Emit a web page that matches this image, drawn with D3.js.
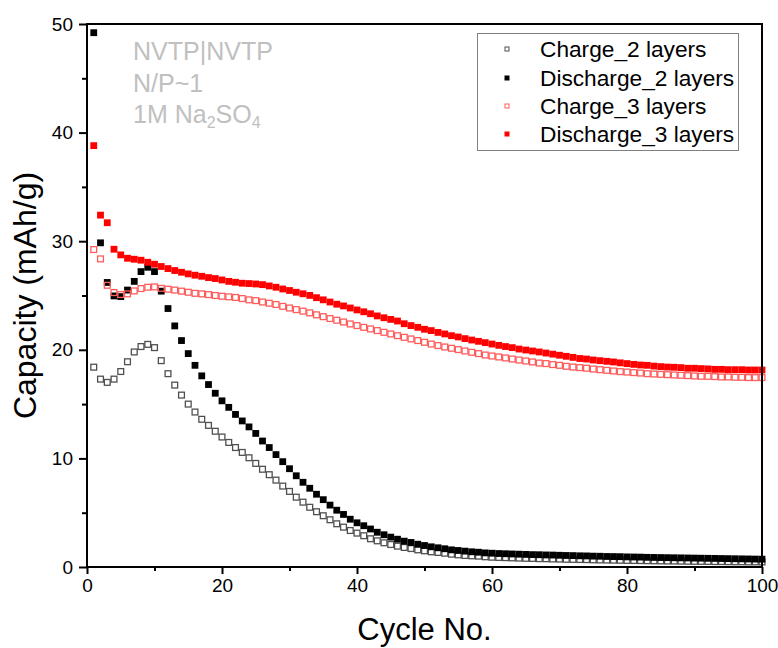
<!DOCTYPE html>
<html>
<head>
<meta charset="utf-8">
<script src="https://cdn.jsdelivr.net/npm/d3@7"></script>
<style>
  body { margin: 0; background: #fff; }
  svg { display: block; font-family: Arial, "Liberation Sans", sans-serif; }
</style>
</head>
<body>
<div id="main"></div>
<script>
// capacity per cycle (mAh/g)
var charge_2 = [
    18.4, 17.3, 17.0, 17.3, 18.0, 18.9, 19.8, 20.3, 20.5, 20.2,
    19.0, 17.8, 16.75, 15.83, 15.0, 14.27, 13.6, 13.04, 12.5, 11.97,
    11.47, 11.0, 10.55, 10.06, 9.54, 9.0, 8.5, 8.0, 7.45, 6.96,
    6.43, 5.97, 5.5, 5.09, 4.72, 4.35, 3.98, 3.67, 3.36, 3.12,
    2.88, 2.6, 2.41, 2.23, 2.07, 1.92, 1.8, 1.7, 1.58, 1.49,
    1.4, 1.34, 1.27, 1.18, 1.12, 1.06, 1.03, 1.0, 0.94, 0.9,
    0.88, 0.86, 0.84, 0.82, 0.80, 0.79, 0.77, 0.76, 0.74, 0.73,
    0.71, 0.70, 0.69, 0.68, 0.66, 0.65, 0.64, 0.63, 0.62, 0.61,
    0.60, 0.59, 0.58, 0.57, 0.56, 0.55, 0.55, 0.54, 0.53, 0.52,
    0.52, 0.51, 0.50, 0.50, 0.49, 0.48, 0.48, 0.47, 0.47, 0.46
];
var discharge_2 = [
    49.2, 29.85, 26.2, 24.96, 24.9, 25.5, 26.3, 27.2, 27.6, 27.2,
    25.4, 23.8, 22.2, 20.85, 19.65, 18.57, 17.6, 16.8, 16.0, 15.3,
    14.7, 14.05, 13.45, 12.9, 12.3, 11.6, 11.0, 10.35, 9.7, 9.05,
    8.4, 7.8, 7.25, 6.7, 6.2, 5.7, 5.23, 4.84, 4.4, 4.07,
    3.8, 3.5, 3.2, 2.97, 2.75, 2.56, 2.38, 2.26, 2.1, 1.98,
    1.86, 1.77, 1.68, 1.58, 1.52, 1.46, 1.4, 1.36, 1.3, 1.27,
    1.24, 1.22, 1.20, 1.18, 1.16, 1.14, 1.13, 1.11, 1.10, 1.08,
    1.06, 1.05, 1.03, 1.02, 1.00, 0.99, 0.97, 0.96, 0.95, 0.93,
    0.92, 0.91, 0.89, 0.88, 0.87, 0.86, 0.85, 0.84, 0.83, 0.82,
    0.81, 0.80, 0.79, 0.78, 0.77, 0.76, 0.75, 0.74, 0.73, 0.72
];
var charge_3 = [
    29.23, 28.37, 25.94, 25.27, 25.09, 25.15, 25.42, 25.64, 25.76, 25.79,
    25.66, 25.58, 25.5, 25.4, 25.3, 25.2, 25.15, 25.08, 25.0, 24.93,
    24.88, 24.82, 24.72, 24.6, 24.53, 24.4, 24.29, 24.17, 24.0, 23.85,
    23.7, 23.56, 23.4, 23.22, 23.05, 22.88, 22.72, 22.56, 22.38, 22.23,
    22.07, 21.92, 21.77, 21.61, 21.46, 21.3, 21.15, 21.0, 20.85, 20.69,
    20.53, 20.39, 20.26, 20.14, 20.02, 19.89, 19.77, 19.65, 19.52, 19.43,
    19.34, 19.25, 19.15, 19.06, 18.97, 18.88, 18.78, 18.73, 18.64, 18.57,
    18.48, 18.41, 18.36, 18.3, 18.23, 18.17, 18.11, 18.05, 17.99, 17.95,
    17.9, 17.86, 17.8, 17.77, 17.74, 17.71, 17.68, 17.65, 17.62, 17.59,
    17.56, 17.56, 17.53, 17.5, 17.5, 17.47, 17.47, 17.44, 17.44, 17.44
];
var discharge_3 = [
    38.8, 32.4, 31.7, 29.26, 28.74, 28.43, 28.34, 28.25, 28.06, 27.88,
    27.67, 27.48, 27.3, 27.14, 26.99, 26.87, 26.77, 26.65, 26.56, 26.43,
    26.3, 26.22, 26.13, 26.1, 26.06, 26.0, 25.88, 25.76, 25.6, 25.46,
    25.3, 25.16, 25.01, 24.8, 24.6, 24.4, 24.2, 24.04, 23.85, 23.67,
    23.5, 23.32, 23.12, 22.95, 22.8, 22.65, 22.4, 22.23, 22.07, 21.89,
    21.77, 21.6, 21.46, 21.3, 21.18, 21.03, 20.9, 20.78, 20.66, 20.53,
    20.41, 20.3, 20.2, 20.07, 19.98, 19.89, 19.8, 19.7, 19.6, 19.5,
    19.4, 19.3, 19.2, 19.15, 19.06, 19.0, 18.94, 18.88, 18.8, 18.73,
    18.66, 18.6, 18.57, 18.5, 18.45, 18.41, 18.39, 18.36, 18.3, 18.3,
    18.27, 18.24, 18.2, 18.2, 18.17, 18.17, 18.17, 18.14, 18.14, 18.14
];
var series_names = ["Charge_2 layers", "Discharge_2 layers", "Charge_3 layers", "Discharge_3 layers"];
var x_ticks = [0, 20, 40, 60, 80, 100];
var y_ticks = [0, 10, 20, 30, 40, 50];

var styles = [
    {fill: "none", stroke: "#505050"},
    {fill: "#000", stroke: "none"},
    {fill: "none", stroke: "#ff5c5c"},
    {fill: "#ff0000", stroke: "none"}
];

var W = 778, H = 648;
var margin = {left: 87, right: 16, top: 24, bottom: 81};
var iw = W - margin.left - margin.right;
var ih = H - margin.top - margin.bottom;

var svg = d3.select("#main").append("svg")
    .attr("width", W).attr("height", H);
var g = svg.append("g")
    .attr("transform", "translate(" + margin.left + "," + margin.top + ")");

var x = d3.scaleLinear().domain([0, 100]).range([0, iw]);
var y = d3.scaleLinear().domain([0, 50]).range([ih, 0]);

// minor ticks
var xAxisMinor = d3.axisBottom(x).tickValues([10, 30, 50, 70, 90]).tickSize(4).tickFormat("");
var yAxisMinor = d3.axisLeft(y).tickValues([5, 15, 25, 35, 45]).tickSize(5).tickFormat("");
g.append("g").attr("transform", "translate(0," + ih + ")").call(xAxisMinor);
g.append("g").call(yAxisMinor);

var xAxis = d3.axisBottom(x).tickValues(x_ticks).tickSize(7).tickPadding(5);
var yAxis = d3.axisLeft(y).tickValues(y_ticks).tickSize(8).tickPadding(6);
var gx = g.append("g").attr("transform", "translate(0," + ih + ")").call(xAxis);
var gy = g.append("g").call(yAxis);
g.selectAll(".domain").remove();
g.selectAll(".tick line").attr("stroke", "#000").attr("stroke-width", 2);
g.selectAll(".tick text").attr("font-size", 19).attr("fill", "#000")
    .attr("font-family", "Arial, 'Liberation Sans', sans-serif");

// points
var all = [charge_2, discharge_2, charge_3, discharge_3];
all.forEach(function(vals, k) {
    var st = styles[k];
    var open = st.fill == "none";
    var s = open ? 5.8 : 6.8;
    g.append("g").selectAll("rect")
        .data(vals)
        .enter().append("rect")
        .attr("x", function(d, i) { return x(i + 1) - s / 2; })
        .attr("y", function(d) { return y(d) - s / 2; })
        .attr("width", s).attr("height", s)
        .attr("fill", open ? "#fff" : st.fill)
        .attr("fill-opacity", open ? 0 : 1)
        .attr("stroke", st.stroke)
        .attr("stroke-width", open ? 1.3 : 0);
});

// frame
g.append("rect")
    .attr("x", 0).attr("y", 0).attr("width", iw).attr("height", ih)
    .attr("fill", "none").attr("stroke", "#000").attr("stroke-width", 2);

// axis titles
svg.append("text")
    .attr("x", margin.left + iw / 2).attr("y", 640)
    .attr("text-anchor", "middle").attr("font-size", 31)
    .text("Cycle No.");
svg.append("text")
    .attr("transform", "translate(36," + (margin.top + ih / 2) + ") rotate(-90)")
    .attr("text-anchor", "middle").attr("font-size", 32)
    .text("Capacity (mAh/g)");

// annotation
var note = svg.append("g").attr("fill", "#c0c0c0").attr("font-size", 25);
note.append("text").attr("x", 133).attr("y", 60).text("NVTP|NVTP");
note.append("text").attr("x", 133).attr("y", 92).text("N/P~1");
var t3 = note.append("text").attr("x", 133).attr("y", 123);
t3.append("tspan").text("1M Na");
t3.append("tspan").attr("font-size", 16).attr("dy", 5).text("2");
t3.append("tspan").attr("dy", -5).text("SO");
t3.append("tspan").attr("font-size", 16).attr("dy", 5).text("4");

// legend
var lg = svg.append("g");
lg.append("rect")
    .attr("x", 477.5).attr("y", 33.5).attr("width", 261).attr("height", 117)
    .attr("fill", "#fff").attr("stroke", "#808080").attr("stroke-width", 1);
var rows = [49, 78, 106, 134];
series_names.forEach(function(name, k) {
    var st = styles[k];
    var open = st.fill == "none";
    var s = open ? 4 : 5;
    lg.append("rect")
        .attr("x", 507 - s / 2).attr("y", rows[k] - s / 2)
        .attr("width", s).attr("height", s)
        .attr("fill", open ? "#fff" : st.fill)
        .attr("stroke", st.stroke).attr("stroke-width", open ? 1 : 0);
    lg.append("text")
        .attr("x", 540).attr("y", rows[k] + 8)
        .attr("font-size", 22.7).attr("fill", "#000")
        .text(name);
});
</script>
</body>
</html>
